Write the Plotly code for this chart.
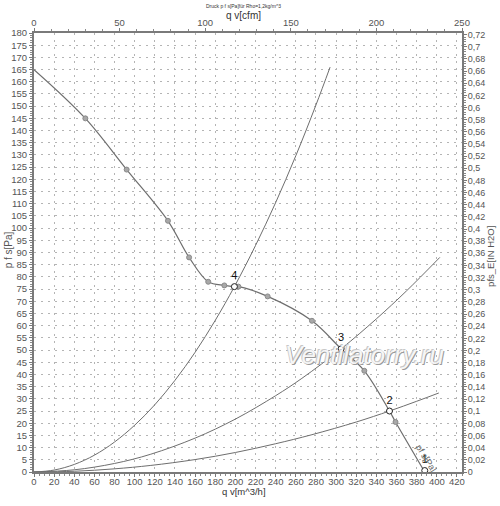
import plotly.graph_objects as go

# ---- data ----
fan_q = [0, 51, 92, 133, 154, 173, 189, 199, 203, 232, 276, 305, 328, 353, 359, 388]
fan_p = [165, 145, 124, 103, 88, 78, 76.5, 76, 76, 72, 62, 50.5, 41.5, 25, 20.5, 0]

mark_q = [51, 92, 133, 154, 173, 189, 203, 232, 276, 328, 359]
mark_p = [145, 124, 103, 88, 78, 76.5, 76, 72, 62, 41.5, 20.5]

op_q = [388, 353, 305, 199]
op_p = [0.6, 25, 50.5, 76]
op_lbl = ["1", "2", "3", "4"]

sysA_q = [0, 20, 40, 60, 80, 100, 120, 140, 160, 180, 199, 220, 240, 260, 280, 294]
sysA_p = [0, 0.8, 3.1, 6.9, 12.3, 19.2, 27.6, 37.6, 49.1, 62.2, 76, 92.9, 110.5, 129.7, 150.5, 166]

sysB_q = [0, 40, 80, 116, 160, 200, 240, 266, 305, 340, 370, 403]
sysB_p = [0, 0.9, 3.5, 7.3, 13.9, 21.7, 31.3, 38.4, 50.5, 62.8, 74.3, 88]

sysC_q = [0, 40, 80, 116, 160, 200, 240, 276, 320, 353, 380, 402]
sysC_p = [0, 0.3, 1.3, 2.7, 5.1, 8.0, 11.6, 15.3, 20.5, 25, 29.0, 32.4]

x_max = 425          # m^3/h  (= 250 cfm)
y_max = 180          # Pa
inh2o_max = y_max / 249.089
cfm_max = 250

right_vals = [i * 0.02 for i in range(37)]
right_text = [("%g" % round(v, 2)).replace(".", ",") for v in right_vals]

line_col = "#6e6e6e"
FONT = "Liberation Sans, Arial"
tick_font = dict(family=FONT, size=9.5, color="#555555")

fig = go.Figure()

for q, p in [(sysA_q, sysA_p), (sysB_q, sysB_p), (sysC_q, sysC_p)]:
    fig.add_trace(go.Scatter(x=q, y=p, mode="lines", line=dict(color=line_col, width=1, shape="spline", smoothing=1.0),
                             hoverinfo="skip", showlegend=False))

fig.add_trace(go.Scatter(x=fan_q, y=fan_p, mode="lines",
                         line=dict(color=line_col, width=1.2, shape="spline", smoothing=1.0),
                         showlegend=False))
fig.add_trace(go.Scatter(x=mark_q, y=mark_p, mode="markers",
                         marker=dict(size=5, color="#a8a8a8", line=dict(color="#8a8a8a", width=1)),
                         showlegend=False))
fig.add_trace(go.Scatter(x=op_q, y=op_p, mode="markers+text", text=op_lbl,
                         textposition="top center",
                         textfont=dict(family=FONT, size=11, color="#111111"),
                         marker=dict(size=6, color="white", line=dict(color="#222222", width=1)),
                         showlegend=False))

# invisible traces to activate secondary axes
fig.add_trace(go.Scatter(x=[0, cfm_max], y=[0, 0], xaxis="x2", yaxis="y", mode="lines",
                         line=dict(width=0), hoverinfo="skip", showlegend=False))
fig.add_trace(go.Scatter(x=[0, 0], y=[0, inh2o_max], xaxis="x", yaxis="y2", mode="lines",
                         line=dict(width=0), hoverinfo="skip", showlegend=False))

axis_common = dict(showline=True, linecolor="#7a7a7a", linewidth=2, ticks="outside",
                   tickcolor="#7a7a7a", ticklen=3, tickfont=tick_font, zeroline=False,
                   automargin=False)
grid_style = dict(showgrid=True, gridcolor="#b4b4b4", griddash="2px,5px", gridwidth=1)

fig.update_layout(
    width=500, height=506,
    margin=dict(l=34, r=38, t=33, b=34),
    paper_bgcolor="white", plot_bgcolor="white",
    showlegend=False,
    xaxis=dict(range=[0, x_max], dtick=20, tick0=0, **grid_style, ticklabelstandoff=-3,
               minor=dict(dtick=5, ticks="outside", ticklen=2, tickcolor="#8a8a8a", showgrid=False),
               **axis_common),
    xaxis2=dict(range=[0, cfm_max], overlaying="x", side="top", dtick=50, tick0=0, showgrid=False,
                ticklabelstandoff=-2,
                minor=dict(dtick=10, ticks="outside", ticklen=2, tickcolor="#8a8a8a"),
                **axis_common),
    yaxis=dict(range=[0, y_max], dtick=5, tick0=0, **grid_style,
               minor=dict(dtick=1, ticks="outside", ticklen=2, tickcolor="#8a8a8a", showgrid=False),
               **axis_common),
    yaxis2=dict(range=[0, inh2o_max], overlaying="y", side="right", tickvals=right_vals,
                ticktext=right_text, showgrid=False, ticklabelstandoff=-1,
                minor=dict(dtick=0.004, ticks="outside", ticklen=2, tickcolor="#8a8a8a"),
                **{**axis_common, "tickfont": dict(family=FONT, size=9, color="#555555")}),
    annotations=[
        dict(text="Druck p f s[Pa]für Rho=1,2kg/m^3", xref="paper", yref="paper", x=0.49, y=1.0,
             yshift=27, yanchor="middle", showarrow=False,
             font=dict(family=FONT, size=5, color="#333333")),
        dict(text="q v[cfm]", xref="paper", yref="paper", x=0.49, y=1.0, yshift=18, yanchor="middle",
             showarrow=False, font=dict(family=FONT, size=10, color="#333333")),
        dict(text="q v[m^3/h]", xref="paper", yref="paper", x=0.49, y=0.0, yshift=-19, yanchor="middle",
             showarrow=False, font=dict(family=FONT, size=9.5, color="#333333")),
        dict(text="p f s[Pa]", xref="paper", yref="paper", x=0.0, y=0.505, xshift=-26, xanchor="center",
             yanchor="middle", textangle=-90,
             showarrow=False, font=dict(family=FONT, size=10, color="#555555")),
        dict(text="pfs_E[IN H2O]", xref="paper", yref="paper", x=1.0, y=0.49, xshift=29, xanchor="center",
             yanchor="middle", textangle=-90,
             showarrow=False, font=dict(family=FONT, size=9.5, color="#555555")),
        dict(text="pf s[Pa]", x=390, y=5.5, xref="x", yref="y", textangle=58, showarrow=False,
             font=dict(family=FONT, size=9, color="#666666")),
        dict(text="<i>Ventilatorry.ru</i>", x=328, y=48, xref="x", yref="y", showarrow=False,
             font=dict(family=FONT, size=26, color="#f6f6f6",
                       shadow="1px 1px 0 #9a9a9a, -1px -1px 0 #c8c8c8")),
    ],
)

fig.write_html("out.html", config={"displayModeBar": False},
               post_script="document.body.style.margin='0';document.body.style.overflow='hidden';")
